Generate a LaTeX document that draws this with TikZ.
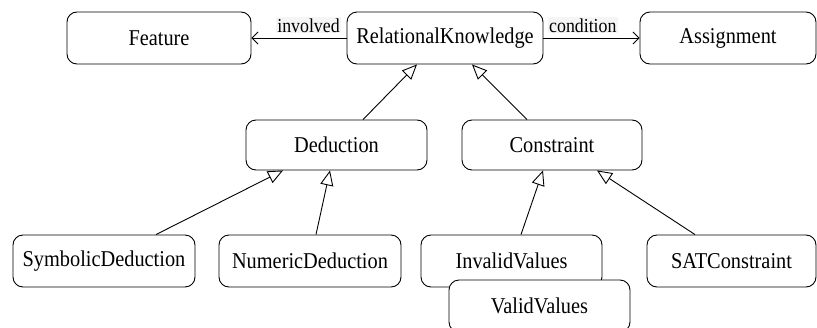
\documentclass[tikz,border=0pt]{standalone}
\usepackage{fontspec}
\setmainfont{Liberation Serif}[FakeStretch=0.9]
\usetikzlibrary{arrows.meta}
\tikzset{
  cls/.style={draw, line width=0.9pt, rounded corners=10pt, fill=white, inner sep=0pt,
    font=\fontsize{22.6}{26}\selectfont, minimum height=52pt},
  inh/.style={line width=0.9pt, -{Triangle[open, length=15pt, width=13pt, line width=0.9pt]}},
  assoc/.style={line width=0.9pt, -{Straight Barb[length=6pt, width=12pt, line width=0.9pt]}},
  lbl/.style={font=\fontsize{19.8}{22}\selectfont, fill=black!4, inner sep=1pt, anchor=base, yshift=6pt}
}
\begin{document}
\begin{tikzpicture}[x=1pt, y=-1pt]
\useasboundingbox (0,0) rectangle (817,327);
\node[cls, minimum width=184pt] (feat) at (159,38) {Feature};
\node[cls, minimum width=196pt] (rk) at (445,38) {RelationalKnowledge};
\node[cls, minimum width=176pt] (asg) at (728,38) {Assignment};
\node[cls, minimum width=181pt, minimum height=50pt] (ded) at (336.5,145) {Deduction};
\node[cls, minimum width=180pt, minimum height=50pt] (con) at (552,145) {Constraint};
\node[cls, minimum width=182pt] (sym) at (104,261) {SymbolicDeduction};
\node[cls, minimum width=182pt] (num) at (310,261) {NumericDeduction};
\node[cls, minimum width=181pt] (inv) at (511.5,261) {InvalidValues};
\node[cls, minimum width=181pt] (val) at (539.5,306) {ValidValues};
\node[cls, minimum width=169pt] (sat) at (731.5,261) {SATConstraint};

\draw[assoc] (rk.west) -- node[lbl, pos=0.4] {involved} (feat.east);
\draw[assoc] (rk.east) -- node[lbl, pos=0.41] {condition} (asg.west);

\draw[inh] ([xshift=26.5pt]ded.north) -- ([xshift=-28pt]rk.south);
\draw[inh] ([xshift=-25pt]con.north) -- ([xshift=27pt]rk.south);
\draw[inh] ([xshift=52pt]sym.north) -- ([xshift=-53.5pt]ded.south);
\draw[inh] ([xshift=6pt]num.north) -- ([xshift=-6.5pt]ded.south);
\draw[inh] ([xshift=9.5pt]inv.north) -- ([xshift=-9pt]con.south);
\draw[inh] ([xshift=-36.5pt]sat.north) -- ([xshift=45pt]con.south);
\end{tikzpicture}
\end{document}
